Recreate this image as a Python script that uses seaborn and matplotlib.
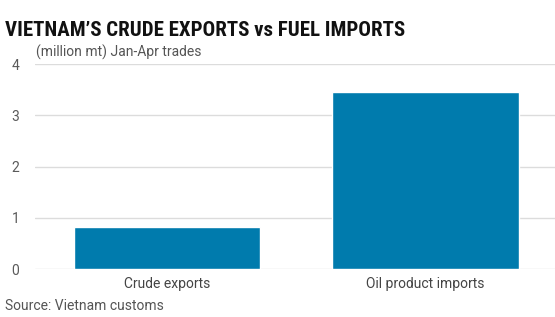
import matplotlib
matplotlib.use("Agg")
import matplotlib.pyplot as plt
import seaborn as sns
import pandas as pd

categories = ["Crude exports", "Oil product imports"]
values = [0.83, 3.45]
yticks = [0, 1, 2, 3, 4]

sns.set_theme(style="white")
plt.rcParams['font.family'] = ['Roboto', 'DejaVu Sans']

df = pd.DataFrame({"cat": categories, "val": values})

fig = plt.figure(figsize=(5.55, 3.17), dpi=100)
ax = fig.add_axes([0.063, 0.151, 0.937, 0.647])
sns.barplot(data=df, x="cat", y="val", color="#007BAD", saturation=1, width=0.72, ax=ax, zorder=3)

ax.set_ylim(0, 4)
ax.set_xlim(-0.51, 1.50)
ax.set_yticks(yticks)
ax.set_yticklabels([str(t) for t in yticks])
ax.yaxis.grid(True, color="#dcdcdc", linewidth=1)
ax.set_axisbelow(True)
for s in ax.spines.values():
    s.set_visible(False)
ax.set_xlabel("")
ax.set_ylabel("")
ax.tick_params(axis="y", length=0, pad=14, labelsize=10, labelcolor="#5a5a5a")
ax.tick_params(axis="x", length=0, pad=6, labelsize=10, labelcolor="#444444")
for lab in ax.get_yticklabels():
    lab.set_horizontalalignment("center")

fig.text(0.009, 0.888, "VIETNAM\u2019S CRUDE EXPORTS vs FUEL IMPORTS", fontsize=15,
         fontweight="bold", color="#111111", family=["Roboto Condensed", "Liberation Sans Narrow", "Roboto", "DejaVu Sans"],
         va="baseline", ha="left")
fig.text(0.065, 0.822, "(million mt) Jan-Apr trades", fontsize=10, color="#555555", va="baseline", ha="left")
fig.text(0.009, 0.022, "Source: Vietnam customs", fontsize=10, color="#555555", va="baseline", ha="left")

fig.savefig("out.png", dpi=100)
